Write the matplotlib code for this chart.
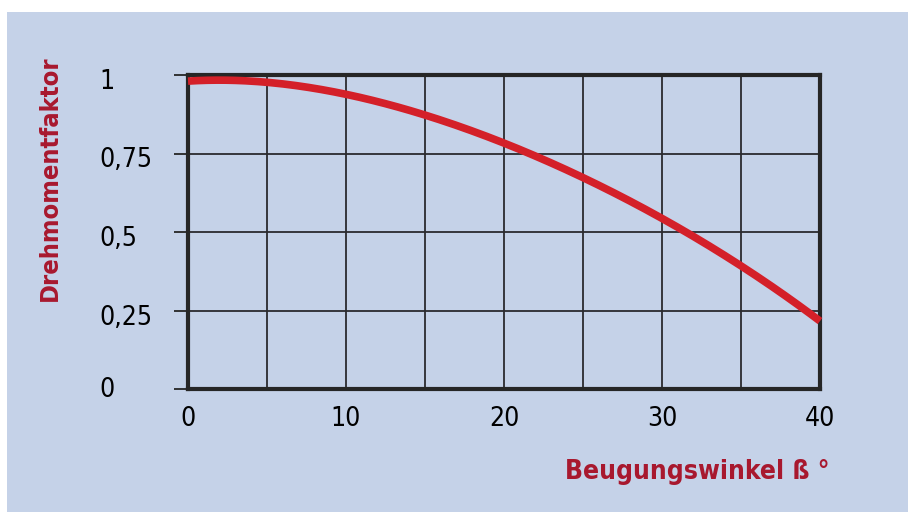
import matplotlib
matplotlib.use("Agg")
import matplotlib.pyplot as plt
from matplotlib.patches import Rectangle
import numpy as np

# Daten
winkel = [0, 2, 5, 10, 15, 20, 25, 30, 35, 40]
faktor = [0.98, 0.985, 0.975, 0.94, 0.873, 0.78, 0.675, 0.545, 0.39, 0.217]
x_ticks = [0, 10, 20, 30, 40]
y_ticks = [0, 0.25, 0.5, 0.75, 1]
y_tick_labels = ["0", "0,25", "0,5", "0,75", "1"]

BG = "#c5d2e8"
RED = "#d42029"
LABEL_RED = "#a8182e"

plt.rcParams["font.family"] = ["DejaVu Sans"]
plt.rcParams["font.stretch"] = "condensed"

W, H = 908, 512
fig = plt.figure(figsize=(W / 100, H / 100), dpi=100, facecolor="white")
fig.patches.append(Rectangle((7 / W, 0), 1 - 7 / W, 1 - 12 / H,
                             transform=fig.transFigure, facecolor=BG,
                             edgecolor="none", zorder=-10))

left, right, top, bottom = 188, 820, 75, 389
ax = fig.add_axes([left / W, 1 - bottom / H, (right - left) / W, (bottom - top) / H])
ax.set_facecolor(BG)
ax.set_xlim(0, 40)
ax.set_ylim(0, 1)

# Gitter
for gx in range(5, 40, 5):
    ax.axvline(gx, color="#2a2a2e", lw=1.3, zorder=1)
for gy in y_ticks[1:-1]:
    ax.axhline(gy, color="#2a2a2e", lw=1.3, zorder=1)
for s in ax.spines.values():
    s.set_color("#262626")
    s.set_linewidth(3)

coef = np.polyfit(winkel, faktor, 4)
xs = np.linspace(0, 40, 200)
ax.plot(xs, np.polyval(coef, xs), color=RED, lw=5.5, solid_capstyle="butt",
        zorder=3, clip_on=False)

ax.set_xticks(x_ticks)
ax.set_xticklabels([str(v) for v in x_ticks], fontstretch="condensed")
ax.set_yticks(y_ticks)
ax.set_yticklabels([])
ax.tick_params(axis="x", length=0, pad=12, labelsize=19)
ax.tick_params(axis="y", length=10, width=1.3, color="#262626", direction="out")

px = 1 / (bottom - top)
for v, lab in zip(y_ticks, y_tick_labels):
    off = 1 if v == 0 else 7
    ax.text(-89 / (right - left) * 40, v - off * px, lab, ha="left", va="center",
            fontsize=19, color="black", fontstretch="condensed", clip_on=False)

fig.text(50 / W, 1 - 178 / H, "Drehmomentfaktor", rotation=90, ha="center",
         va="center", fontsize=18.3, fontweight="bold", color=LABEL_RED,
         fontstretch="condensed")
fig.text(830 / W, 1 - 472 / H, "Beugungswinkel ß °", ha="right", va="center",
         fontsize=19, fontweight="bold", color=LABEL_RED, fontstretch="condensed")

fig.savefig("out.png", dpi=100, facecolor="white")
